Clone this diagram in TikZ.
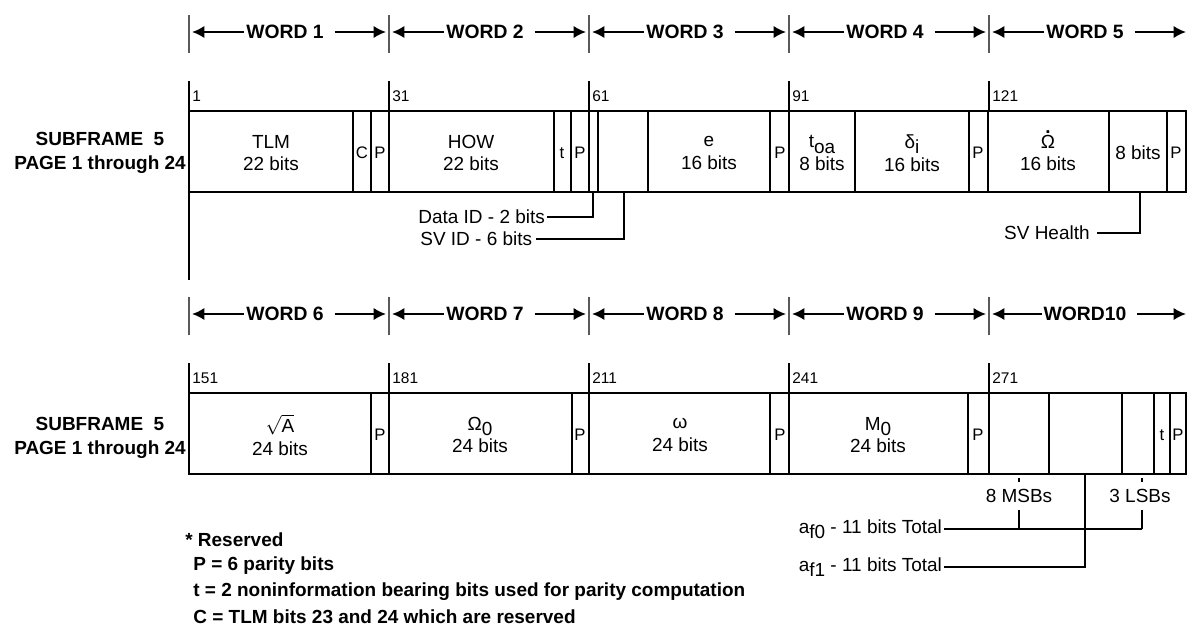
\documentclass[tikz,border=0pt]{standalone}
\usepackage{amsmath}
\usepackage{fontspec}
\setmainfont{Liberation Sans}
\usepackage{tikz}
\usetikzlibrary{arrows.meta,positioning}

\newcommand{\lowsub}[1]{\raisebox{-0.55ex}{#1}}
\newcommand{\Omdot}{\ooalign{Ω\cr\hidewidth\raisebox{0.78em}{\textbf{.}}\hidewidth\cr}}

\begin{document}
\begin{tikzpicture}[x=0.02cm,y=-0.02cm,
  every node/.style={inner sep=0pt,font=\fontsize{10.8}{13}\selectfont},
  cellline/.style={line width=1.2pt},
  leader/.style={line width=0.6pt},
  wordtick/.style={line width=0.6pt,black!65},
  wordarrow/.style={line width=1.2pt,-{Latex[length=7pt,width=7pt]}},
  wordlbl/.style={inner xsep=1pt,font=\bfseries\fontsize{11}{13}\selectfont},
  bitnum/.style={anchor=west,font=\fontsize{8.8}{10}\selectfont},
  sflbl/.style={align=center,font=\bfseries\fontsize{10.8}{13.5}\selectfont},
  cell/.style={align=center},
  smallcell/.style={font=\fontsize{9.5}{11}\selectfont},
  legend/.style={anchor=west,font=\bfseries\fontsize{10.8}{13}\selectfont}]
\path[fill=white,use as bounding box] (0,0) rectangle (1189,626);

% Word headers
\foreach \x/\n/\y in {189/1/32,389/2/32,589/3/32,789/4/32,989/5/32,
                      189/6/314,389/7/314,589/8/314,789/9/314,989/10/314}{
  \draw[wordtick] (\x,\y-17) -- (\x,\y+21);
  \coordinate (wl\n) at (\x+3,\y);
  \coordinate (wr\n) at (\x+197,\y);
  \ifnum\n=10
    \node[wordlbl] (w\n) at (\x+96,\y) {WORD10};
  \else
    \node[wordlbl] (w\n) at (\x+96,\y) {WORD \n};
  \fi
  \draw[wordarrow] (w\n) -- (wl\n);
  \draw[wordarrow] ([xshift=5pt]w\n.east) -- (wr\n);
}

% Bit numbers
\foreach \x/\a/\b in {189/1/151,389/31/181,589/61/211,789/91/241,989/121/271}{
  \draw[leader] (\x,81) -- (\x,111);
  \node[bitnum] (n\a) at (\x+3,96) {\a};
  \draw[leader] (\x,363) -- (\x,393);
  \node[bitnum] (n\b) at (\x+3,378) {\b};
}

% Subframe labels
\node[sflbl] (sf1) at (100,153) {SUBFRAME\ \ 5\\PAGE 1 through 24};
\node[sflbl] (sf2) at (100,438) {SUBFRAME\ \ 5\\PAGE 1 through 24};

% Row 1: words 1-5
\draw[cellline] (189,111) rectangle (1186,192);
\foreach \x in {353,371,389,554,571,589,598,648,770,789,855,969,988,1109,1167}
  \draw[cellline] (\x,111) -- (\x,192);
\foreach \x/\nm/\txt in {271/tlm/{TLM\\22 bits},471/how/{HOW\\22 bits},
    709/ecc/{e\\16 bits},822/toa/{t\lowsub{oa}\\8 bits},912/deli/{δ\lowsub{i}\\16 bits},
    1048/omd/{\Omdot\\16 bits},1138/health/{8 bits}}
  \node[cell] (\nm) at (\x,153) {\txt};
\foreach \x/\nm/\txt in {362/cbit/C,380/pa/P,562/ta/t,580/pb/P,780/pc/P,978/pd/P,1176/pe/P}
  \node[smallcell] (\nm) at (\x,153) {\txt};

% Row 1 leaders
\coordinate (dataidcell) at (593,192);
\coordinate (svidcell) at (624,192);
\coordinate (healthcell) at (1140,192);
\node[anchor=east,inner xsep=1pt] (dataid) at (547,217) {Data ID - 2 bits};
\node[anchor=east,inner xsep=2pt] (svid) at (536,239) {SV ID - 6 bits};
\node[anchor=east,inner xsep=4pt] (svhealth) at (1097,233) {SV Health};
\draw[leader] (dataid.east) -| (dataidcell);
\draw[leader] (svid.east) -| (svidcell);
\draw[leader] (svhealth.east) -| (healthcell);
\coordinate (leftfoot) at (189,280);
\draw[line width=0.8pt] (189,192) -- (leftfoot);

% Row 2: words 6-10
\draw[cellline] (189,393) rectangle (1186,474);
\foreach \x in {371,389,572,589,770,789,968,989,1049,1122,1154,1170}
  \draw[cellline] (\x,393) -- (\x,474);
\foreach \x/\nm/\txt in {280/sqa/{$\sqrt{\text{A}}$\\24 bits},480/omz/{Ω\lowsub{0}\\24 bits},
    680/omg/{ω\\24 bits},878/mzero/{M\lowsub{0}\\24 bits}}
  \node[cell] (\nm) at (\x,435) {\txt};
\foreach \x/\nm/\txt in {380/pf/P,580/pg/P,780/ph/P,978/pi/P,1162/tb/t,1178/pj/P}
  \node[smallcell] (\nm) at (\x,435) {\txt};

% Row 2 leaders (clock correction)
\coordinate (msbcell) at (1019,478);
\coordinate (lsbcell) at (1142,478);
\coordinate (afonecell) at (1085,474);
\coordinate (msbjoin) at (1019,529);
\coordinate (lsbjoin) at (1142,529);
\node[inner ysep=4pt] (msb) at (1019,496) {8 MSBs};
\node[inner ysep=4pt] (lsb) at (1140,496) {3 LSBs};
\node[anchor=east,inner xsep=1pt] (afzero) at (944,529) {a\lowsub{f0} - 11 bits Total};
\node[anchor=east,inner xsep=1pt] (afone) at (944,567) {a\lowsub{f1} - 11 bits Total};
\draw[leader] (msbcell) -- (msb);
\draw[leader] (lsbcell) -- (lsb.north -| lsbcell);
\draw[leader] (msb) -- (msbjoin);
\draw[leader] (lsb.south -| lsbjoin) -- (lsbjoin);
\draw[leader] (afzero.east) -- (lsbjoin);
\draw[leader] (afone.east) -| (afonecell);

% Key
\node[legend] (resv) at (185,540) {* Reserved};
\foreach \y/\txt [count=\i] in {566/P = 6 parity bits,
    592/t = 2 noninformation bearing bits used for parity computation,
    617/C = TLM bits 23 and 24 which are reserved}
  \node[legend] (key\i) at (193,\y) {\txt};
\end{tikzpicture}
\end{document}
